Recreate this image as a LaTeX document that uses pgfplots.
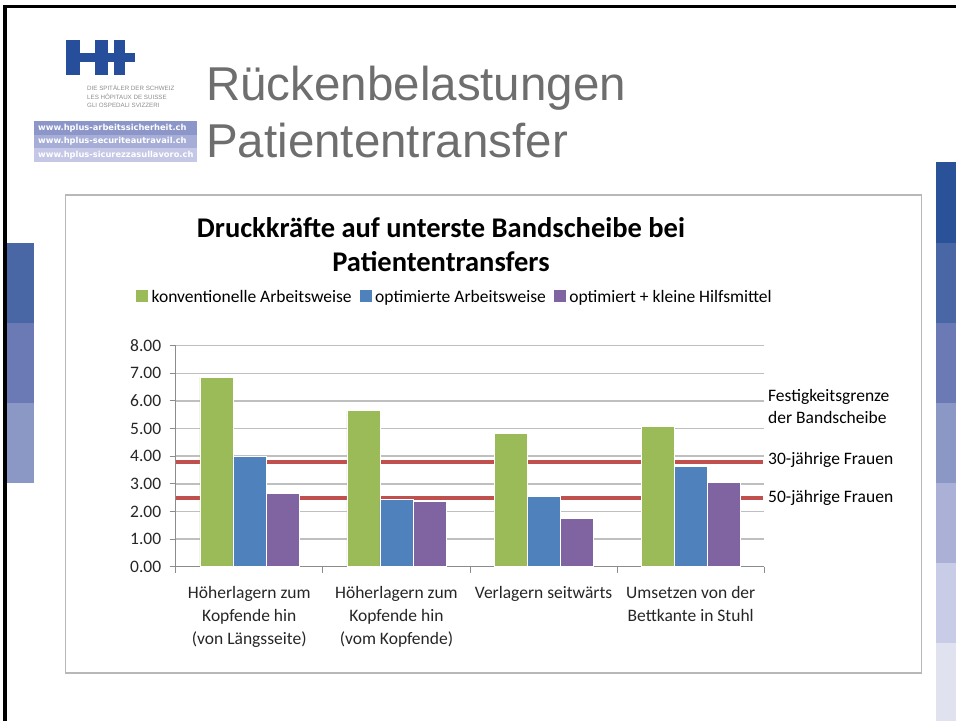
\documentclass[border=0pt]{standalone}
\usepackage{fontspec}
\usepackage{graphicx}
\usepackage{pgfplots}
\pgfplotsset{compat=1.18}
\setmainfont{Carlito}
\newfontfamily\arial{Liberation Sans}
\newfontfamily\verd{DejaVu Sans}
\definecolor{cgreen}{HTML}{9BBB59}
\definecolor{cblue}{HTML}{4F81BD}
\definecolor{cpurple}{HTML}{8064A2}
\definecolor{cred}{HTML}{C0504D}
\definecolor{hblue}{HTML}{264E9A}
\definecolor{titlegray}{HTML}{6E6E6E}
\definecolor{sqa}{HTML}{2A5299}
\definecolor{sqb}{HTML}{4A67A5}
\definecolor{sqc}{HTML}{6B7AB4}
\definecolor{sqd}{HTML}{8B97C4}
\definecolor{sqe}{HTML}{ABB0D6}
\definecolor{sqf}{HTML}{C8CCE6}
\definecolor{sqg}{HTML}{E0E2F0}
\definecolor{ua}{HTML}{8C96C8}
\definecolor{ub}{HTML}{A6ADD6}
\definecolor{uc}{HTML}{C4C8E6}
\newcommand\cf{\fontsize{17.5pt}{23pt}\selectfont}
\begin{document}
\begin{tikzpicture}
\begin{scope}[x=1pt,y=1pt]
\path[use as bounding box] (0,0) rectangle (956,-721);
% decorative squares
\fill[sqb] (5,-243) rectangle (34,-323);
\fill[sqc] (5,-323) rectangle (34,-403);
\fill[sqd] (5,-403) rectangle (34,-483);
\fill[sqa] (936,-162) rectangle (956,-243);
\fill[sqb] (936,-243) rectangle (956,-323);
\fill[sqc] (936,-323) rectangle (956,-403);
\fill[sqd] (936,-403) rectangle (956,-483);
\fill[sqe] (936,-483) rectangle (956,-563);
\fill[sqf] (936,-563) rectangle (956,-643);
\fill[sqg] (936,-643) rectangle (956,-721);
% slide border
\draw[black, line width=3.5pt] (5,-721) -- (5,-6.5) -- (956,-6.5);
% logo
\fill[hblue] (66,-40) rectangle (80,-75);
\fill[hblue] (66,-52.7) rectangle (108,-61.7);
\fill[hblue] (94.5,-40) rectangle (108,-75);
\fill[hblue] (103,-52.7) rectangle (135,-61.7);
\fill[hblue] (114,-40) rectangle (125,-75);
\node[anchor=west, inner sep=0, text=black!45, font=\arial\fontsize{6.2pt}{7pt}\selectfont] at (87,-88) {DIE SPITÄLER DER SCHWEIZ};
\node[anchor=west, inner sep=0, text=black!45, font=\arial\fontsize{6.2pt}{7pt}\selectfont] at (87,-96.5) {LES HÔPITAUX DE SUISSE};
\node[anchor=west, inner sep=0, text=black!45, font=\arial\fontsize{6.2pt}{7pt}\selectfont] at (87,-105) {GLI OSPEDALI SVIZZERI};
\fill[ua] (34,-121) rectangle (197,-134.5);
\fill[ub] (34,-134.5) rectangle (197,-148);
\fill[uc] (34,-148) rectangle (197,-162);
\node[anchor=west, inner sep=0, text=white, font=\verd\bfseries\fontsize{8.3pt}{9pt}\selectfont] at (38,-127.8) {www.hplus-arbeitssicherheit.ch};
\node[anchor=west, inner sep=0, text=white, font=\verd\bfseries\fontsize{8.3pt}{9pt}\selectfont] at (38,-141.3) {www.hplus-securiteautravail.ch};
\node[anchor=west, inner sep=0, text=white, font=\verd\bfseries\fontsize{8.3pt}{9pt}\selectfont] at (38,-155) {www.hplus-sicurezzasullavoro.ch};
% slide title
\node[anchor=base west, inner sep=0, text=titlegray, font=\arial\fontsize{47.5pt}{50pt}\selectfont] at (206,-100) {Rückenbelastungen};
\node[anchor=base west, inner sep=0, text=titlegray, font=\arial\fontsize{47.5pt}{50pt}\selectfont] at (206,-157) {Patiententransfer};
% chart frame
\draw[black!28, line width=1.5pt] (65.5,-195) rectangle (921.5,-673);
% chart title
\node[anchor=base, inner sep=0, font=\bfseries\fontsize{28.5pt}{30pt}\selectfont] at (441,-237.5) {Druckkräfte auf unterste Bandscheibe bei};
\node[anchor=base, inner sep=0, font=\bfseries\fontsize{28.5pt}{30pt}\selectfont] at (441,-271) {Patiententransfers};
% right labels
\node[anchor=west, inner sep=0, font=\cf] at (768,-397) {Festigkeitsgrenze};
\node[anchor=west, inner sep=0, font=\cf] at (768,-417) {der Bandscheibe};
\node[anchor=west, inner sep=0, font=\cf] at (768,-460) {30-jährige Frauen};
\node[anchor=west, inner sep=0, font=\cf] at (768,-498) {50-jährige Frauen};
\end{scope}
\begin{axis}[
 at={(175.7pt,-566.7pt)}, anchor=south west,
 scale only axis, width=588.6pt, height=221pt,
 xmin=0.5, xmax=4.5, ymin=0, ymax=8,
 axis x line*=bottom, axis y line*=left,
 axis line style={black!45, line width=1pt, -},
 ytick={0,1,...,8},
 yticklabels={0.00,1.00,2.00,3.00,4.00,5.00,6.00,7.00,8.00},
 xtick={0.5,1.5,2.5,3.5,4.5}, xticklabels={,,,,},
 extra x ticks={1,2,3,4},
 extra x tick labels={{Höherlagern zum\\Kopfende hin\\(von Längsseite)},{Höherlagern zum\\Kopfende hin\\(vom Kopfende)},{Verlagern seitwärts},{Umsetzen von der\\Bettkante in Stuhl}},
 extra x tick style={major tick length=0pt, tick label style={align=center, anchor=north, font=\cf, yshift=-16pt}},
 tick align=outside, major tick length=6pt,
 tick style={black!45, line width=1pt},
 ymajorgrids, grid style={black!25, line width=1.5pt},
 tick label style={font=\cf, text=black!85},
 yticklabel style={xshift=-5pt},
 legend columns=3,
 legend style={draw=none, fill=none, at={(0.4745,1.2204)}, anchor=center, font=\cf,
   /tikz/every odd column/.append style={column sep=2pt},
   /tikz/every even column/.append style={column sep=6pt}},
]
\addplot[sharp plot, cred, line width=3.7pt, forget plot] coordinates {(0.5,3.78) (4.49,3.78)};
\addplot[sharp plot, cred, line width=3.7pt, forget plot] coordinates {(0.5,2.48) (4.49,2.48)};
\addplot[ybar, bar width=33pt, bar shift=-33pt, fill=cgreen, draw=white, line width=0.5pt,
  legend image code/.code={\fill[cgreen] (0pt,-4.5pt) rectangle (11pt,6.5pt);}]
  coordinates {(1,6.86) (2,5.65) (3,4.82) (4,5.07)};
\addplot[ybar, bar width=33pt, bar shift=0pt, fill=cblue, draw=white, line width=0.5pt,
  legend image code/.code={\fill[cblue] (0pt,-4.5pt) rectangle (11pt,6.5pt);}]
  coordinates {(1,3.99) (2,2.44) (3,2.54) (4,3.62)};
\addplot[ybar, bar width=33pt, bar shift=33pt, fill=cpurple, draw=white, line width=0.5pt,
  legend image code/.code={\fill[cpurple] (0pt,-4.5pt) rectangle (11pt,6.5pt);}]
  coordinates {(1,2.66) (2,2.36) (3,1.75) (4,3.06)};
\legend{konventionelle Arbeitsweise, optimierte Arbeitsweise, optimiert + kleine Hilfsmittel}
\end{axis}
\end{tikzpicture}
\end{document}
